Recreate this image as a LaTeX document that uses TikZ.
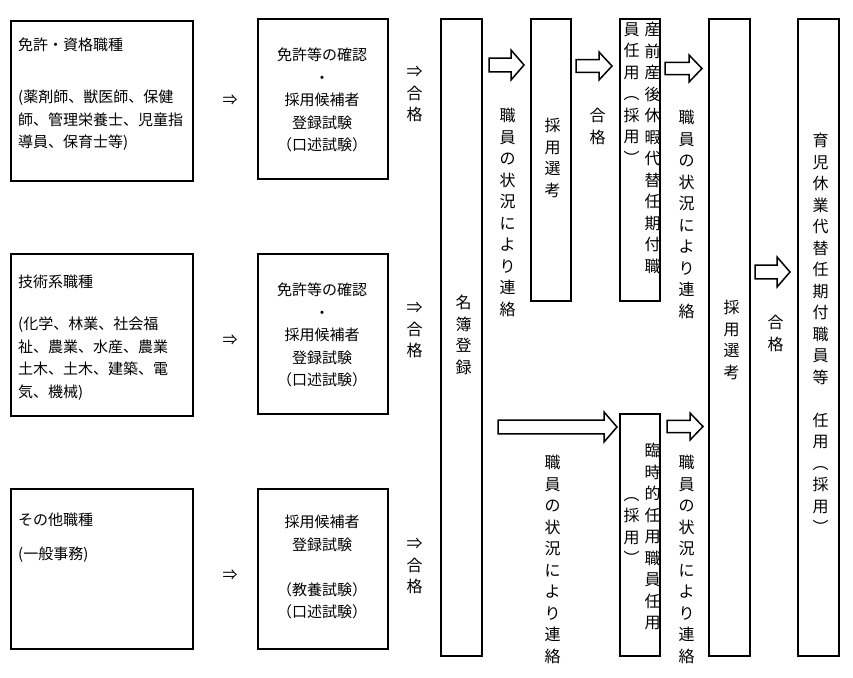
\documentclass[tikz,border=0pt]{standalone}
\usepackage{fontspec}
\setmainfont{Noto Sans CJK JP}
\usetikzlibrary{positioning}
\tikzset{
  box/.style={draw, line width=1.8pt, anchor=north west, inner sep=0pt},
  txt/.style={font=\fontsize{15}{22.5}\selectfont, inner sep=0pt},
  vt/.style={font=\fontsize{16}{21.5}\selectfont, align=center, inner sep=0pt, text width=1.1em},
  barrow/.style={draw, line width=1.5pt, fill=white}
}
% block arrow: x1, ytop, x2, ybottom
\newcommand\blkarrow[4]{%
  \draw[barrow] (#1,{#2+0.27*(#4-#2)}) -- ({#3-13},{#2+0.27*(#4-#2)}) -- ({#3-13},#2)
    -- (#3,{(#2+#4)/2}) -- ({#3-13},#4) -- ({#3-13},{#4-0.27*(#4-#2)})
    -- (#1,{#4-0.27*(#4-#2)}) -- cycle;}
\begin{document}
\begin{tikzpicture}[x=1pt,y=-1pt]
  \useasboundingbox (0,0) rectangle (853,677);
  % left column
  \node[box, minimum width=182pt, minimum height=160pt] (lic) at (10,20) {};
  \node[box, minimum width=182pt, minimum height=162pt] (tech) at (10,253) {};
  \node[box, minimum width=182pt, minimum height=160pt] (other) at (10,488) {};
  \node[txt, anchor=west] (licT) at (18,45) {免許・資格職種};
  \node[txt, anchor=north west, align=left] (licS) at (18,90) {(薬剤師、獣医師、保健\\師、管理栄養士、児童指\\導員、保育士等)};
  \node[txt, anchor=west] (techT) at (18,282) {技術系職種};
  \node[txt, anchor=north west, align=left] (techS) at (18,317) {(化学、林業、社会福\\祉、農業、水産、農業\\土木、土木、建築、電\\気、機械)};
  \node[txt, anchor=west] (otherT) at (18,520) {その他職種};
  \node[txt, anchor=west] (otherS) at (18,555) {(一般事務)};
  % arrows to exams
  \node[txt] (a1) at (230,100) {⇒};
  \node[txt] (a2) at (230,340) {⇒};
  \node[txt] (a3) at (230,575) {⇒};
  % exam boxes
  \node[box, minimum width=130pt, minimum height=160pt] (ex1) at (257,18) {};
  \node[box, minimum width=130pt, minimum height=160pt] (ex2) at (257,253) {};
  \node[box, minimum width=130pt, minimum height=160pt] (ex3) at (257,488) {};
  \node[txt, align=center] (ex1T) at (322,100) {免許等の確認\\・\\採用候補者\\登録試験\\（口述試験）};
  \node[txt, align=center] (ex2T) at (322,335) {免許等の確認\\・\\採用候補者\\登録試験\\（口述試験）};
  \node[txt, align=center] (ex3T) at (322,567) {採用候補者\\登録試験\\　\\（教養試験）\\（口述試験）};
  \node[vt, anchor=north] (p1) at (412,66) {⇒\\合\\格};
  \node[vt, anchor=north] (p2) at (412,302) {⇒\\合\\格};
  \node[vt, anchor=north] (p3) at (412,538) {⇒\\合\\格};
  % register
  \node[box, minimum width=41pt, minimum height=637pt] (reg) at (440,18) {};
  \node[vt] (regT) at (461,335) {名\\簿\\登\\録};
  % upper path
  \blkarrow{489}{50}{524}{80}
  \node[vt, anchor=north] (c1) at (505,108) {職\\員\\の\\状\\況\\に\\よ\\り\\連\\絡};
  \node[box, minimum width=40pt, minimum height=282pt] (sel1) at (530,18) {};
  \node[vt, anchor=north] (sel1T) at (550,118) {採\\用\\選\\考};
  \blkarrow{576}{52}{612}{80}
  \node[vt, anchor=north] (g1) at (595,108) {合\\格};
  \node[box, minimum width=40pt, minimum height=282pt] (mat) at (619,18) {};
  \node[vt, anchor=north] (matA) at (650,22) {産\\前\\産\\後\\休\\暇\\代\\替\\任\\期\\付\\職};
  \node[vt, anchor=north] (matB) at (629,22) {員\\任\\用\\︵\\採\\用\\︶};
  \blkarrow{665}{55}{702}{82}
  \node[vt, anchor=north] (c2) at (684,110) {職\\員\\の\\状\\況\\に\\よ\\り\\連\\絡};
  % lower path
  \blkarrow{498}{412}{617}{442}
  \node[vt, anchor=north] (c3) at (550,455) {職\\員\\の\\状\\況\\に\\よ\\り\\連\\絡};
  \node[box, minimum width=40pt, minimum height=242pt] (tmp) at (619,413) {};
  \node[vt, anchor=north] (tmpA) at (650,443) {臨\\時\\的\\任\\用\\職\\員\\任\\用};
  \node[vt, anchor=north] (tmpB) at (629,497) {︵\\採\\用\\︶};
  \blkarrow{667}{413}{703}{440}
  \node[vt, anchor=north] (c4) at (684,455) {職\\員\\の\\状\\況\\に\\よ\\り\\連\\絡};
  % final
  \node[box, minimum width=41pt, minimum height=637pt] (sel2) at (708,18) {};
  \node[vt] (sel2T) at (729,340) {採\\用\\選\\考};
  \blkarrow{755}{257}{790}{287}
  \node[vt, anchor=north] (g2) at (773,315) {合\\格};
  \node[box, minimum width=41pt, minimum height=637pt] (fin) at (797,18) {};
  \node[vt, anchor=north] (finT) at (818,133) {育\\児\\休\\業\\代\\替\\任\\期\\付\\職\\員\\等\\　\\任\\用\\︵\\採\\用\\︶};
\end{tikzpicture}
\end{document}
